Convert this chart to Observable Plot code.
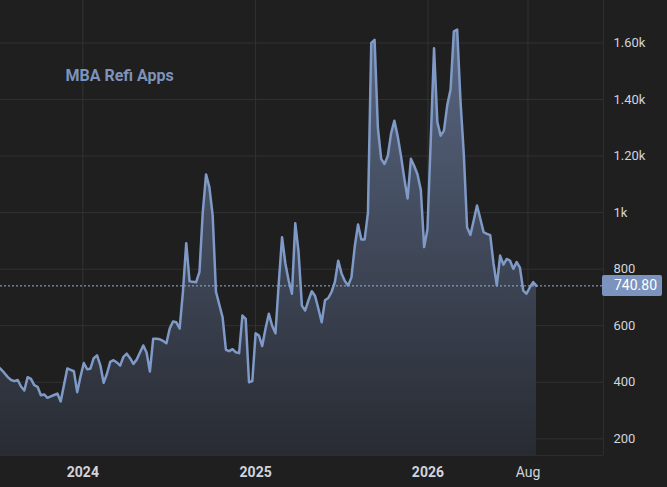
<!DOCTYPE html>
<html>
<head>
<meta charset="utf-8">
<script src="https://cdn.jsdelivr.net/npm/d3@7"></script>
<script src="https://cdn.jsdelivr.net/npm/@observablehq/plot@0.6"></script>
<style>
  html, body { margin: 0; padding: 0; background: #1f1f1f; }
</style>
</head>
<body>
<div id="chart"></div>
<script>
const seriesTitle = "MBA Refi Apps";
const firstWeek = "2023-07-05";
const refiValues = [
  455, 445, 432, 418, 408, 404, 408, 385, 371, 418, 412, 390, 384, 354, 357, 345, 350, 355, 360, 332,
  390, 449, 444, 439, 365, 420, 468, 446, 448, 485, 495, 460, 398, 430, 472, 478, 470, 459, 490, 501,
  485, 465, 480, 505, 530, 505, 438, 554, 554, 552, 546, 538, 590, 615, 612, 590, 720, 892, 757, 755,
  754, 790, 1000, 1135, 1090, 990, 720, 675, 630, 515, 510, 517, 506, 503, 636, 624, 400, 404, 573, 565,
  528, 590, 642, 600, 573, 750, 913, 820, 760, 713, 962, 860, 671, 654, 690, 722, 705, 660, 612, 690,
  698, 720, 755, 830, 785, 758, 742, 771, 880, 958, 905, 905, 1000, 1600, 1611, 1300, 1190, 1172, 1200, 1280,
  1325, 1270, 1200, 1120, 1050, 1190, 1165, 1135, 1080, 878, 940, 1255, 1581, 1320, 1272, 1290, 1380, 1435, 1641, 1647,
  1396, 1208, 948, 921, 972, 1025, 978, 931, 925, 920, 820, 742, 848, 816, 836, 830, 801, 825, 805, 724,
  713, 736, 754, 740.8
];
const lastValue = 740.80;
const lastLabel = "740.80";
const yTicks = [200, 400, 600, 800, 1000, 1200, 1400, 1600];
const yTickLabels = ["200", "400", "600", "800", "1k", "1.20k", "1.40k", "1.60k"];
const yearTicks = ["2024-01-01", "2025-01-01", "2026-01-01"];
const yearLabels = ["2024", "2025", "2026"];
const monthTicks = ["2026-08-01"];
const monthLabels = ["Aug"];
const xDomain = ["2023-07-10T12:00:00Z", "2027-01-08T00:00:00Z"];
const yDomain = [141, 1750];

const start = new Date(firstWeek + "T00:00:00Z");
const data = refiValues.map((v, i) => ({date: d3.utcDay.offset(start, 7 * i), value: v}));
const yearDates = yearTicks.map(s => new Date(s + "T00:00:00Z"));
const monthDates = monthTicks.map(s => new Date(s + "T00:00:00Z"));
const xDom = xDomain.map(s => new Date(s));

const gridColor = "#323232";
const textColor = "#d1d4dc";
const font = "Roboto, 'Noto Sans', sans-serif";

const chart = Plot.plot({
  width: 667,
  height: 487,
  marginLeft: 0,
  marginRight: 64,
  marginTop: 0,
  marginBottom: 32,
  style: {background: "#1f1f1f", color: textColor, fontFamily: font, fontSize: "13px"},
  x: {type: "utc", domain: xDom, label: null, axis: null},
  y: {domain: yDomain, label: null, axis: null},
  marks: [
    Plot.gridX(yearDates.concat(monthDates), {stroke: gridColor, strokeOpacity: 1}),
    Plot.gridY(yTicks, {stroke: gridColor, strokeOpacity: 1}),
    Plot.areaY(data, {x: "date", y1: yDomain[0], y2: "value", fill: "url(#refiGrad)", clip: true}),
    Plot.ruleY([lastValue], {stroke: "#9bb0d4", strokeDasharray: "2,2", strokeWidth: 1}),
    Plot.lineY(data, {x: "date", y: "value", stroke: "#7f9ac6", strokeWidth: 2.5, strokeLinejoin: "round", clip: true}),
    Plot.ruleY([yDomain[0]], {stroke: "#2c2a3e"}),
    Plot.ruleX([xDom[1]], {stroke: "#2c2a3e"}),
    Plot.axisY(yTicks, {anchor: "right", tickSize: 0, tickPadding: 10, label: null,
      tickFormat: d => yTickLabels[yTicks.indexOf(d)], fill: textColor, fontSize: 13}),
    Plot.axisX(yearDates, {anchor: "bottom", tickSize: 0, tickPadding: 12, label: null,
      tickFormat: (d, i) => yearLabels[i], fill: textColor, fontSize: 14, fontWeight: "bold"}),
    Plot.axisX(monthDates, {anchor: "bottom", tickSize: 0, tickPadding: 12, label: null,
      tickFormat: (d, i) => monthLabels[i], fill: textColor, fontSize: 14}),
    Plot.text([seriesTitle], {frameAnchor: "top-left", dx: 65, dy: 69, textAnchor: "start",
      fill: "#7d93bb", fontSize: 16, fontWeight: "bold"})
  ]
});

const svg = d3.select(chart);
const defs = svg.insert("defs", ":first-child");
const grad = defs.append("linearGradient")
  .attr("id", "refiGrad")
  .attr("gradientUnits", "userSpaceOnUse")
  .attr("x1", 0).attr("x2", 0).attr("y1", 20).attr("y2", 455);
grad.append("stop").attr("offset", "0%").attr("stop-color", "#5a6884");
grad.append("stop").attr("offset", "100%").attr("stop-color", "#282b32");

const yPos = chart.scale("y").apply(lastValue);
const xEdge = chart.scale("x").apply(xDom[1]);
const tag = svg.append("g");
tag.append("rect")
  .attr("x", xEdge - 1).attr("y", yPos - 10.5)
  .attr("width", 60).attr("height", 21).attr("rx", 2)
  .attr("fill", "#7b93bd");
tag.append("text")
  .attr("x", xEdge + 11).attr("y", yPos).attr("dy", "0.35em")
  .attr("text-anchor", "start")
  .attr("fill", "#ffffff").attr("font-size", 14)
  .attr("font-family", font)
  .text(lastLabel);

document.getElementById("chart").appendChild(chart);
</script>
</body>
</html>
